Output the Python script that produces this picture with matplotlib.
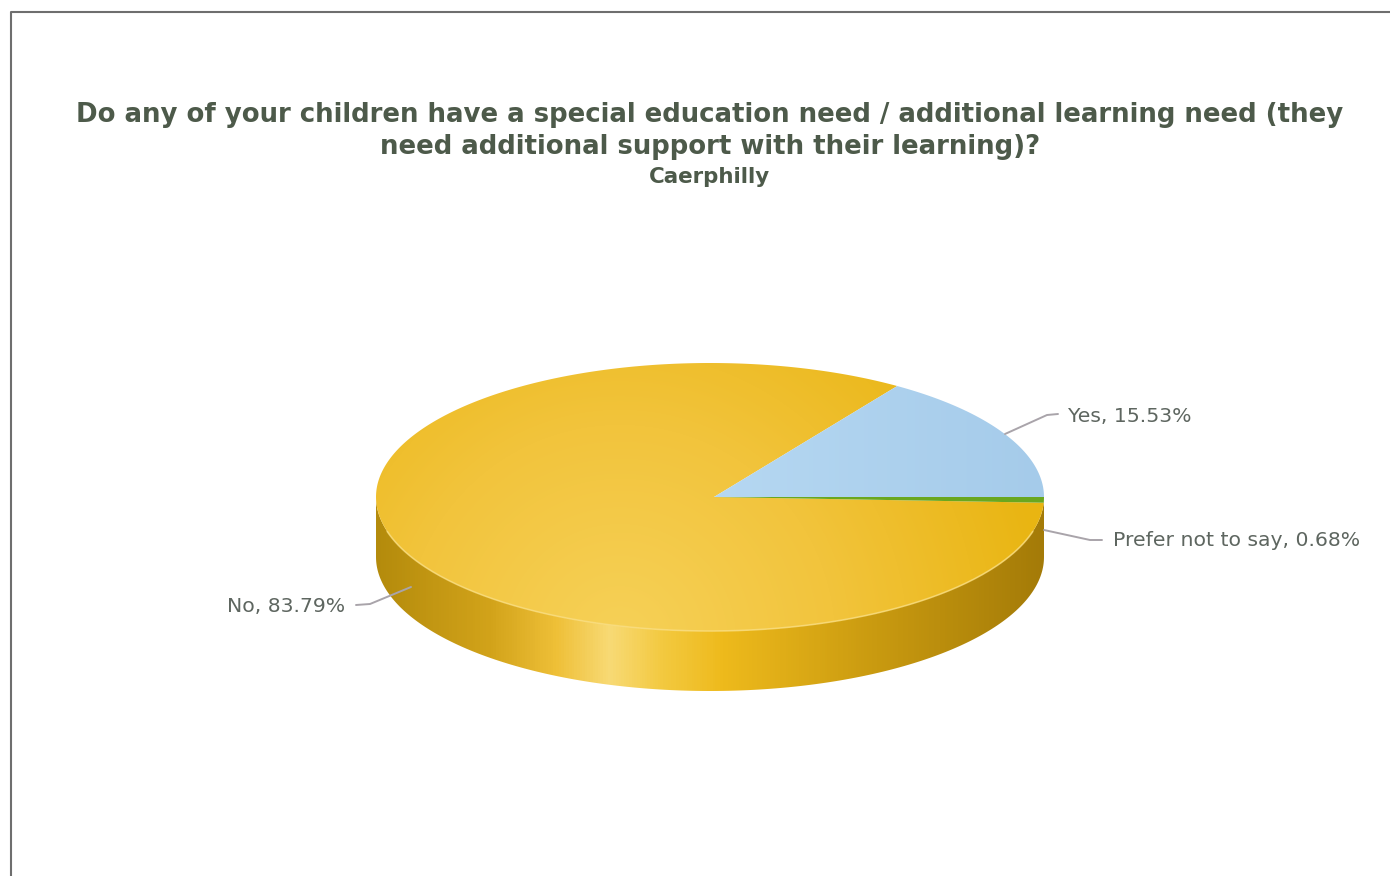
import numpy as np
import matplotlib
matplotlib.use('Agg')
import matplotlib.pyplot as plt
from matplotlib.colors import LinearSegmentedColormap
from matplotlib.patches import Polygon

title = 'Do any of your children have a special education need / additional learning need (they\nneed additional support with their learning)?'
subtitle = 'Caerphilly'
categories = ['Yes', 'Prefer not to say', 'No']
shares = [15.53, 0.68, 83.79]

W, H = 1390, 876
CX, CY, RX, RY, DEPTH = 710, 497, 334, 134, 60
APEX_X = 714

fig = plt.figure(figsize=(W / 100, H / 100), dpi=100)
ax = fig.add_axes([0, 0, 1, 1])
ax.set_xlim(0, W)
ax.set_ylim(H, 0)
ax.axis('off')


def rim(a0, a1, n=200):
    t = np.radians(np.linspace(a0, a1, n))
    return CX + RX * np.cos(t), CY - RY * np.sin(t)


def gradient_fill(img, cmap, verts, zorder):
    patch = Polygon(verts, closed=True, facecolor='none', edgecolor='none')
    ax.add_patch(patch)
    im = ax.imshow(img, extent=(0, W, H, 0), cmap=cmap, vmin=0, vmax=1,
                   aspect='auto', zorder=zorder, interpolation='bilinear')
    im.set_clip_path(patch)


xx, yy = np.meshgrid(np.arange(W) + .5, np.arange(H) + .5)
top_map = LinearSegmentedColormap.from_list('top', ['#f6d158', '#f2c43c', '#e9b512'])
side_map = LinearSegmentedColormap.from_list('side', [(0, '#b48b0c'), (0.17, '#d2a31a'), (0.27, '#efc038'),
                                                      (0.35, '#f8da75'), (0.43, '#f3c93f'), (0.52, '#eeba1c'),
                                                      (0.75, '#c99a10'), (1, '#a47b08')])
blue_map = LinearSegmentedColormap.from_list('blue', ['#b6d8f2', '#a5cbea'])

# side wall
bx, by = rim(180, 360)
side = np.column_stack([np.r_[bx, bx[::-1]], np.r_[by + DEPTH, by[::-1]]])
side_img = np.clip((xx - (CX - RX)) / (2 * RX), 0, 1)
gradient_fill(side_img, side_map, side, 1)

# slices, going round from 3 o'clock
yes_end = shares[0] * 3.6
pref_start = 360 - shares[1] * 3.6

nx, ny = rim(yes_end, pref_start, 400)
no_verts = np.column_stack([np.r_[APEX_X, nx], np.r_[CY, ny]])
no_img = np.clip(np.hypot((xx - 620) / 430, (yy - 640) / 430), 0, 1)
gradient_fill(no_img, top_map, no_verts, 2)

yx, yy_rim = rim(0, yes_end)
yes_verts = np.column_stack([np.r_[APEX_X, yx], np.r_[CY, yy_rim]])
yes_img = np.clip(np.abs(xx - CX) / RX, 0, 1)
gradient_fill(yes_img, blue_map, yes_verts, 2)

px, py = rim(pref_start, 360, 30)
ax.fill(np.r_[APEX_X, px], np.r_[CY, py], color='#6aa71f', lw=0, zorder=3)

# light edge along the front rim
fx, fy = rim(195, 345)
ax.plot(fx, fy, color='#f9dc7c', lw=1.2, alpha=.8, zorder=4)

# labels and leader lines
label_pos = [(1068, 416, 'left'), (1113, 540, 'left'), (345, 606, 'right')]
leaders = [([1005, 1047, 1058], [434, 415, 414]),
           ([1044, 1090, 1102], [530, 540, 540]),
           ([411, 370, 356], [587, 604, 605])]
for cat, val, (tx, ty, ha), (lx, ly) in zip(categories, shares, label_pos, leaders):
    ax.plot(lx, ly, color='#a9a4aa', lw=1.4, zorder=5, solid_capstyle='round')
    ax.text(tx, ty, f'{cat}, {val:.2f}%', ha=ha, va='center', fontsize=14.7, color='#5e6660')

ax.text(710, 131, title, ha='center', va='center', fontsize=18.7, fontweight='bold',
        color='#4d5a4a', linespacing=1.28)
ax.text(709, 177, subtitle, ha='center', va='center', fontsize=15.4, fontweight='bold', color='#4d5a4a')

# chart frame, only top and left show in the crop
ax.plot([10.5, 10.5, W], [H, 11.5, 11.5], color='#6e6e6e', lw=1.5, zorder=6)

fig.savefig('out.png', dpi=100)
plt.close(fig)
